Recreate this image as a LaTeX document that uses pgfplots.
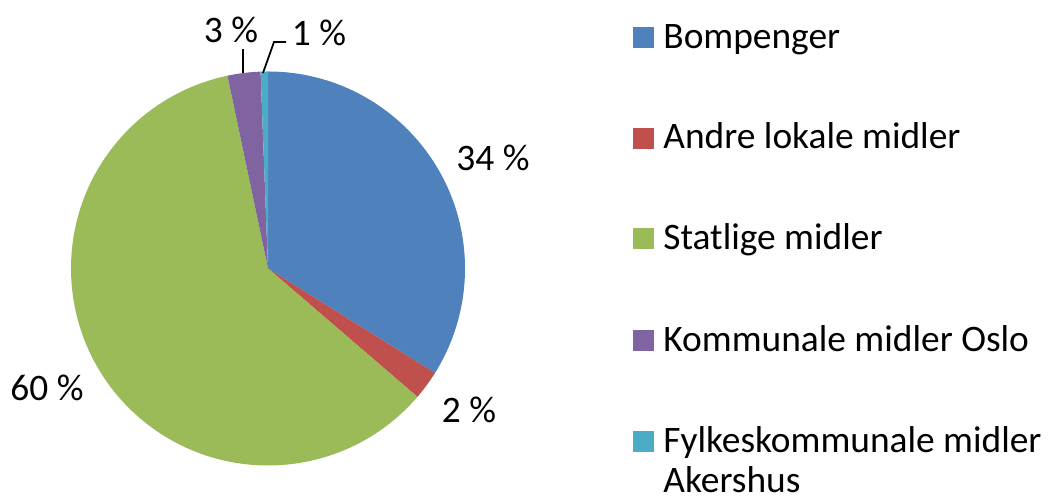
\documentclass[border=0pt]{standalone}
\usepackage{pgfplots}
\usepackage{pgfplotstable}
\pgfplotsset{compat=1.18}
\usepackage{fontspec}
\setmainfont{Carlito}
\definecolor{bomp}{HTML}{4F81BD}
\definecolor{andre}{HTML}{C0504D}
\definecolor{stat}{HTML}{9BBB59}
\definecolor{komm}{HTML}{8064A2}
\definecolor{fylk}{HTML}{4BACC6}
\newcommand\lf{\fontsize{18.7bp}{22bp}\selectfont}

\pgfplotstableread{
value
33.9
2.4
60.4
2.7
0.6
}\piedata

\begin{document}
\begin{tikzpicture}
\pgfplotstablegetelem{0}{value}\of\piedata \pgfmathsetmacro\vA{\pgfplotsretval}
\pgfplotstablegetelem{1}{value}\of\piedata \pgfmathsetmacro\vB{\pgfplotsretval}
\pgfplotstablegetelem{2}{value}\of\piedata \pgfmathsetmacro\vC{\pgfplotsretval}
\pgfplotstablegetelem{3}{value}\of\piedata \pgfmathsetmacro\vD{\pgfplotsretval}
\pgfplotstablegetelem{4}{value}\of\piedata \pgfmathsetmacro\vE{\pgfplotsretval}
\pgfmathsetmacro\aA{90}
\pgfmathsetmacro\aB{\aA-3.6*\vA}
\pgfmathsetmacro\aC{\aB-3.6*\vB}
\pgfmathsetmacro\aD{\aC-3.6*\vC}
\pgfmathsetmacro\aE{\aD-3.6*\vD}
\pgfmathsetmacro\aF{\aE-3.6*\vE}
\def\R{98.5bp}
\begin{axis}[
  width=524bp, height=250bp, scale only axis,
  xmin=0, xmax=1048, ymin=0, ymax=500,
  hide axis, clip=false,
]
\addplot[draw=none] coordinates {(0,0) (1048,500)};
\fill[bomp] (axis cs:268,231.5) -- ++(\aA:\R) arc[start angle=\aA, end angle=\aB, radius=\R] -- cycle;
\fill[andre] (axis cs:268,231.5) -- ++(\aB:\R) arc[start angle=\aB, end angle=\aC, radius=\R] -- cycle;
\fill[stat] (axis cs:268,231.5) -- ++(\aC:\R) arc[start angle=\aC, end angle=\aD, radius=\R] -- cycle;
\fill[komm] (axis cs:268,231.5) -- ++(\aD:\R) arc[start angle=\aD, end angle=\aE, radius=\R] -- cycle;
\fill[fylk] (axis cs:268,231.5) -- ++(\aE:\R) arc[start angle=\aE, end angle=\aF, radius=\R] -- cycle;
% data labels
\node[font=\lf, inner sep=0pt] at (axis cs:493,342) {34 \%};
\node[font=\lf, inner sep=0pt] at (axis cs:469,90) {2 \%};
\node[font=\lf, inner sep=0pt] at (axis cs:47,112) {60 \%};
\node[font=\lf, inner sep=0pt] at (axis cs:231,470) {3 \%};
\node[font=\lf, inner sep=0pt] at (axis cs:319,467) {1 \%};
\draw[line width=0.9pt] (axis cs:243,451) -- (axis cs:243,427);
\draw[line width=0.9pt] (axis cs:263,427) -- (axis cs:274,458) -- (axis cs:286,458);
% legend
\fill[bomp]  (axis cs:633,451.5) rectangle (axis cs:654,472.5);
\fill[andre] (axis cs:633,350.5) rectangle (axis cs:654,371.5);
\fill[stat]  (axis cs:633,250.5) rectangle (axis cs:654,271.5);
\fill[komm]  (axis cs:633,148.5) rectangle (axis cs:654,169.5);
\fill[fylk]  (axis cs:633,47.5) rectangle (axis cs:654,68.5);
\node[font=\lf, inner sep=0pt, anchor=base west] at (axis cs:663,451) {Bompenger};
\node[font=\lf, inner sep=0pt, anchor=base west] at (axis cs:663,351) {Andre lokale midler};
\node[font=\lf, inner sep=0pt, anchor=base west] at (axis cs:663,250) {Statlige midler};
\node[font=\lf, inner sep=0pt, anchor=base west] at (axis cs:663,148) {Kommunale midler Oslo};
\node[font=\lf, inner sep=0pt, anchor=base west] at (axis cs:663,47) {Fylkeskommunale midler};
\node[font=\lf, inner sep=0pt, anchor=base west] at (axis cs:663,7) {Akershus};
\end{axis}
\end{tikzpicture}
\end{document}
